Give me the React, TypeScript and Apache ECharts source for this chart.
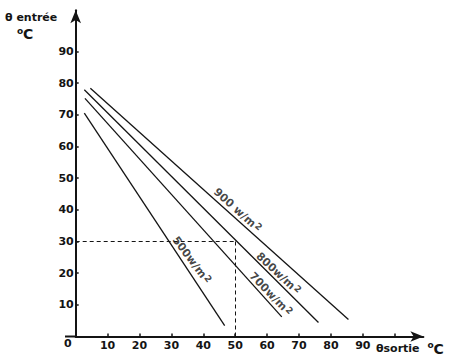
import React, { useEffect, useRef } from "react";
import * as echarts from "echarts";

// Axis ticks / labels
const xTickValues = [10, 20, 30, 40, 50, 60, 70, 80, 90, 100];
const xLabelValues = [10, 20, 30, 40, 50, 60, 70, 80, 90];
const yTickValues = [10, 20, 30, 40, 50, 60, 70, 80, 90, 100];
const yLabelValues = [10, 20, 30, 40, 50, 60, 70, 80, 90];

// Lines (θ sortie, θ entrée) for each irradiance
const line500 = [[2.7, 70.5], [46.7, 3.4]];
const line700 = [[2.9, 75.2], [64.6, 6.2]];
const line800 = [[2.7, 77.9], [76.1, 4.4]];
const line900 = [[4.6, 78.4], [85.5, 5.4]];

// Line labels: [x, y, text, rotation]
const lineLabels: [number, number, string, number][] = [
  [36.3, 24.1, "500w/m", -53],
  [61.1, 13.4, "700w/m", -46],
  [63.5, 19.9, "800w/m", -43],
  [50.7, 39.9, "900 w/m", -42],
];

// Reading guide
const guideX = 50;
const guideY = 30;

const INK = "#141414";
const FONT = "DejaVu Sans";

export default function App() {
  const ref = useRef<HTMLDivElement>(null);
  useEffect(() => {
    if (!ref.current) return;
    const chart = echarts.init(ref.current, null, { renderer: "svg" });
    const lineSeries = (name: string, data: number[][], extra: any = {}) => ({
      name,
      type: "line",
      data,
      symbol: "none",
      silent: true,
      lineStyle: { color: INK, width: 1.3 },
      ...extra,
    });
    chart.setOption({
      animation: false,
      backgroundColor: "#fff",
      grid: { left: 75.7, right: 26.6, top: 10.3, bottom: 23.5 },
      xAxis: {
        type: "value",
        min: 0,
        max: 109,
        splitLine: { show: false },
        axisLine: {
          show: true,
          onZero: false,
          symbol: ["none", "arrow"],
          symbolSize: [8, 13],
          lineStyle: { color: INK, width: 2 },
        },
        axisTick: {
          show: true,
          inside: true,
          length: 3,
          customValues: xTickValues,
          lineStyle: { color: INK, width: 1.5 },
        },
        axisLabel: {
          customValues: xLabelValues,
          margin: 3,
          color: INK,
          fontFamily: FONT,
          fontWeight: "bold",
          fontSize: 11,
        },
      },
      yAxis: {
        type: "value",
        min: 0,
        max: 103,
        splitLine: { show: false },
        axisLine: {
          show: true,
          onZero: false,
          symbol: ["none", "arrow"],
          symbolSize: [8, 13],
          lineStyle: { color: INK, width: 2 },
        },
        axisTick: {
          show: true,
          inside: true,
          length: 3,
          customValues: yTickValues,
          lineStyle: { color: INK, width: 1.5 },
        },
        axisLabel: {
          customValues: yLabelValues,
          margin: 2,
          color: INK,
          fontFamily: FONT,
          fontWeight: "bold",
          fontSize: 11,
        },
      },
      series: [
        lineSeries("500", line500, {
          markLine: {
            silent: true,
            symbol: "none",
            label: { show: false },
            lineStyle: { color: INK, width: 1, type: [4, 3] },
            data: [
              [{ coord: [0, guideY] }, { coord: [guideX, guideY] }],
              [{ coord: [guideX, guideY] }, { coord: [guideX, 0] }],
            ],
          },
        }),
        lineSeries("700", line700),
        lineSeries("800", line800),
        lineSeries("900", line900),
        {
          type: "scatter",
          silent: true,
          symbolSize: 0,
          data: lineLabels.map(([x, y, text, rot]) => ({
            value: [x, y],
            label: {
              show: true,
              position: "inside",
              rotate: rot,
              formatter: text + "{s|2}",
              color: INK,
              fontFamily: FONT,
              fontWeight: "bold",
              fontSize: 11,
              rich: {
                s: {
                  color: INK,
                  fontFamily: FONT,
                  fontWeight: "bold",
                  fontSize: 9,
                  padding: [0, 0, 4, 1],
                },
              },
            },
          })),
        },
      ],
      graphic: [
        {
          type: "line",
          silent: true,
          shape: { x1: 65, y1: 336.5, x2: 76, y2: 336.5 },
          style: { stroke: INK, lineWidth: 2 },
        },
        {
          type: "text",
          x: 5,
          y: 17,
          style: {
            text: "θ entrée",
            fill: INK,
            font: `bold 11px "${FONT}"`,
            verticalAlign: "middle",
          },
        },
        {
          type: "text",
          x: 17,
          y: 30.5,
          style: { text: "o", fill: INK, font: `bold 9px "${FONT}"`, verticalAlign: "middle" },
        },
        {
          type: "text",
          x: 23,
          y: 33.5,
          style: { text: "C", fill: INK, font: `bold 14px "${FONT}"`, verticalAlign: "middle" },
        },
        {
          type: "text",
          x: 64,
          y: 343,
          style: { text: "0", fill: INK, font: `bold 11px "${FONT}"`, verticalAlign: "middle" },
        },
        {
          type: "text",
          x: 376,
          y: 348,
          style: {
            text: "θsortie",
            fill: INK,
            font: `bold 11px "${FONT}"`,
            verticalAlign: "middle",
          },
        },
        {
          type: "text",
          x: 427.5,
          y: 345,
          style: { text: "o", fill: INK, font: `bold 9px "${FONT}"`, verticalAlign: "middle" },
        },
        {
          type: "text",
          x: 433.5,
          y: 348.5,
          style: { text: "C", fill: INK, font: `bold 14px "${FONT}"`, verticalAlign: "middle" },
        },
      ],
    });
    return () => chart.dispose();
  }, []);
  return (
    <div
      ref={ref}
      style={{ position: "fixed", left: 0, top: 0, width: 450, height: 360, background: "#fff" }}
    />
  );
}
